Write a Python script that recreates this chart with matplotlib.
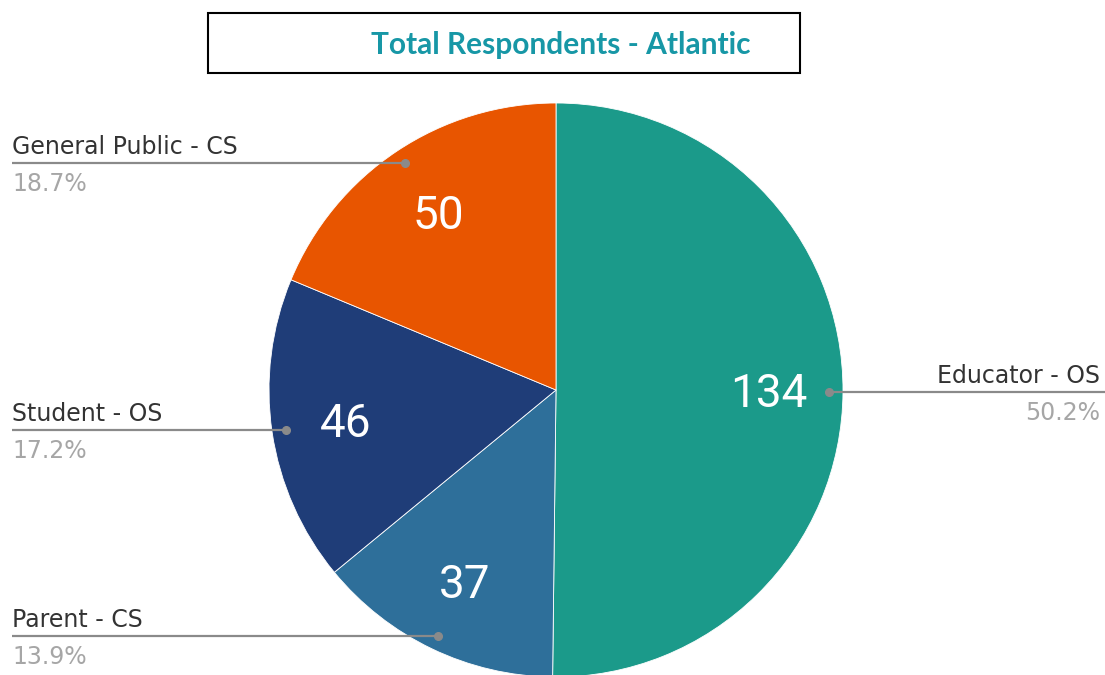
import numpy as np
import matplotlib.pyplot as plt
from matplotlib.patches import Rectangle

# data
labels = ['Educator - OS', 'Parent - CS', 'Student - OS', 'General Public - CS']
counts = [134, 37, 46, 50]
colors = ['#1b9a8a', '#2e6f9a', '#1f3d78', '#e85500']
title = 'Total Respondents - Atlantic'

W, H = 1105, 675
fig = plt.figure(figsize=(W / 100, H / 100), dpi=100)
ax = fig.add_axes([0, 0, 1, 1])

cx, cy, r = 556, H - 390, 287
total = sum(counts)

wedges, texts, autotexts = ax.pie(
    counts, colors=colors, startangle=90, counterclock=False,
    center=(cx, cy), radius=r, pctdistance=0.74,
    autopct=lambda p: '%d' % round(p * total / 100),
    wedgeprops=dict(edgecolor='white', linewidth=0.6),
    textprops=dict(color='white', fontsize=33, family='Roboto'))
for t in autotexts:
    x, y = t.get_position()
    t.set_position((x, y - 3))

ax.set_xlim(0, W)
ax.set_ylim(0, H)
ax.set_aspect('equal')
ax.axis('off')

# leader lines + outside labels
for w, name, c in zip(wedges, labels, counts):
    ang = np.deg2rad((w.theta1 + w.theta2) / 2)
    px = cx + 0.95 * r * np.cos(ang)
    py = cy + 0.95 * r * np.sin(ang)
    if np.cos(ang) > 0:
        xend, tx, ha = W, 1100, 'right'
    else:
        xend, tx, ha = 12, 12, 'left'
    ax.plot([px, xend], [py, py], color='#8a8a8a', lw=1.6, zorder=3,
            solid_capstyle='butt')
    ax.plot(px, py, 'o', color='#8a8a8a', ms=5.5, zorder=4)
    ax.text(tx, py + 4, name, ha=ha, va='bottom', fontsize=17,
            color='#333333', family='DejaVu Sans')
    ax.text(tx, py - 9, '%.1f%%' % (100 * c / total), ha=ha, va='top',
            fontsize=17, color='#a6a6a6', family='DejaVu Sans')

# title box
ax.add_patch(Rectangle((208, H - 73), 592, 60, facecolor='white',
                       edgecolor='black', lw=1.5, zorder=5))
ax.text(561, H - 45, title, ha='center', va='center', fontsize=21.5,
        fontweight='bold', color='#1797a6', family='Lato', zorder=6)

fig.savefig('out.png', dpi=100)
